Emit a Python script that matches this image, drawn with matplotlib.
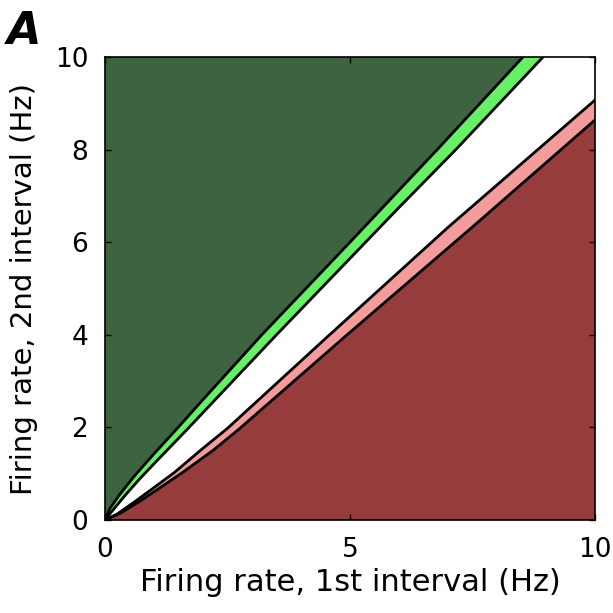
import matplotlib
matplotlib.use("Agg")
import matplotlib.pyplot as plt

# Decision boundaries (x = rate 1st interval, y = rate 2nd interval)
upper_x = [0, 0.1, 0.3, 0.6, 1.0, 1.45, 2.0, 3.2, 5.0, 6.78, 8.53]
upper_y = [0, 0.25, 0.55, 0.95, 1.43, 1.95, 2.6, 4.0, 6.0, 8.0, 10.0]

upper_in_x = [0, 0.15, 0.4, 0.7, 1.05, 1.67, 3.5, 6.0, 7.16, 8.94]
upper_in_y = [0, 0.2, 0.52, 0.88, 1.27, 1.95, 4.0, 6.75, 8.0, 10.0]

lower_in_x = [0, 0.25, 0.6, 1.0, 1.42, 2.0, 2.5, 4.5, 7.0, 10.0]
lower_in_y = [0, 0.13, 0.39, 0.7, 1.03, 1.55, 1.98, 3.92, 6.32, 9.07]

lower_x = [0, 0.3, 0.7, 1.1, 1.6, 2.2, 2.72, 4.94, 7.5, 10.0]
lower_y = [0, 0.14, 0.4, 0.68, 1.04, 1.5, 1.95, 4.0, 6.33, 8.64]

x_ticks = [0, 5, 10]
y_ticks = [0, 2, 4, 6, 8, 10]

dark_green = "#3d6340"
light_green = "#66f066"
pink = "#f49c9c"
dark_red = "#963c3c"

plt.rcParams["font.family"] = ["DejaVu Sans"]

fig = plt.figure(figsize=(6.13, 6.13), dpi=100)
ax = fig.add_axes([0.1713, 0.1517, 0.7993, 0.7553])

# dark green: above the upper boundary
ax.fill(upper_x + [0], upper_y + [10], color=dark_green, lw=0)
# light green band
ax.fill(upper_x + upper_in_x[::-1], upper_y + upper_in_y[::-1], color=light_green, lw=0)
# pink band
ax.fill(lower_in_x + lower_x[::-1], lower_in_y + lower_y[::-1], color=pink, lw=0)
# dark red: below the lower boundary
ax.fill(lower_x + [10], lower_y + [0], color=dark_red, lw=0)

for xs, ys in [(upper_x, upper_y), (upper_in_x, upper_in_y),
               (lower_in_x, lower_in_y), (lower_x, lower_y)]:
    ax.plot(xs, ys, color="black", lw=2, solid_joinstyle="round",
            solid_capstyle="round")

ax.set_xlim(0, 10)
ax.set_ylim(0, 10)
ax.set_xticks(x_ticks)
ax.set_yticks(y_ticks)
ax.tick_params(direction="in", length=4, width=1, top=True, right=True,
               labelsize=19, pad=12)
for s in ax.spines.values():
    s.set_linewidth(1.2)

ax.set_xlabel("Firing rate, 1st interval (Hz)", fontsize=22, labelpad=4)
ax.set_ylabel("Firing rate, 2nd interval (Hz)", fontsize=21, labelpad=12)

fig.text(0.012, 0.928, "A", fontsize=32, fontweight="bold", fontstyle="italic")

fig.savefig("out.png", dpi=100)
